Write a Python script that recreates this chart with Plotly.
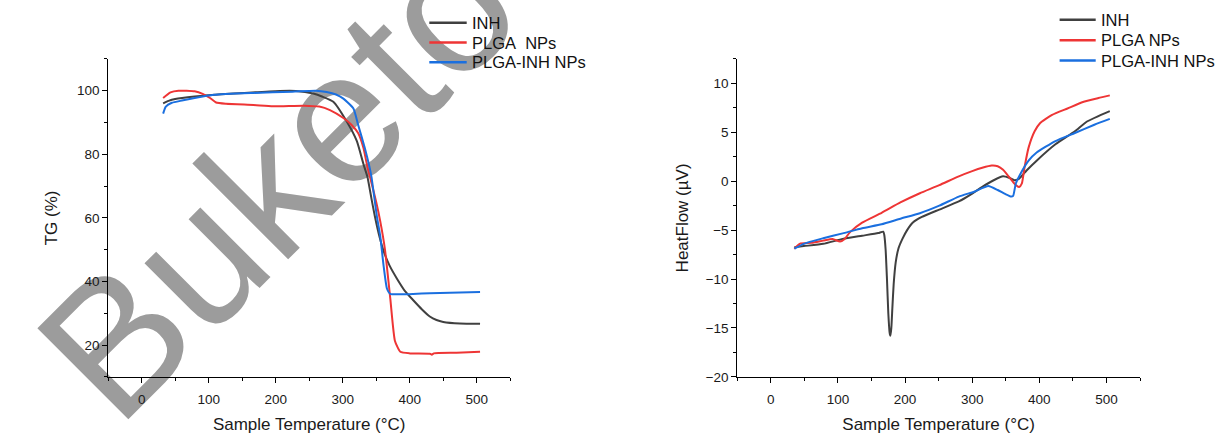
import plotly.graph_objects as go

W, H = 1217, 434

# ---------------- data ----------------
tg_labels = ["INH", "PLGA\u00a0 NPs", "PLGA-INH NPs"]
dsc_labels = ["INH", "PLGA NPs", "PLGA-INH NPs"]
colors = ["#404040", "#ee3535", "#1a6fdf"]

tg_inh_T = [32, 40, 50, 79, 100, 137, 170, 206, 230, 256, 270, 286, 306, 321, 331, 337, 343, 348,
            355, 362, 370, 381, 393, 405, 418, 430, 440, 450, 475, 505]
tg_inh = [96.0, 96.8, 97.4, 98.2, 98.6, 99.1, 99.5, 99.9, 99.9, 99.1, 98.1, 96.5, 90.3, 84.2, 76.9,
          72.8, 66.0, 60.5, 54.0, 49.0, 45.0, 40.9, 37.0, 34.2, 31.3, 29.0, 27.9, 27.3, 26.8, 26.7]

tg_plga_T = [32, 43, 55, 79, 91, 102, 111, 126, 167, 196, 242, 265, 281, 301, 313, 323, 331, 337,
             343, 350, 356, 363, 371, 378, 386, 400, 430, 433, 436, 470, 505]
tg_plga = [97.7, 99.5, 100.0, 99.8, 99.0, 97.7, 96.3, 95.9, 95.5, 95.1, 95.3, 95.0, 93.9, 91.4,
           89.3, 86.7, 82.0, 75.9, 71.0, 65.0, 59.0, 50.2, 34.7, 21.3, 17.9, 17.4, 17.3, 17.0,
           17.4, 17.6, 17.9]

tg_plgainh_T = [32, 36, 45, 60, 79, 108, 167, 225, 260, 276, 290, 301, 316, 323, 333, 340, 343,
                351, 356, 361, 366, 371, 390, 405, 430, 460, 505]
tg_plgainh = [92.8, 95.0, 96.2, 96.9, 97.7, 98.7, 99.3, 99.7, 100.0, 99.6, 98.8, 97.5, 94.4, 89.3,
              82.0, 76.0, 72.8, 60.5, 54.3, 45.0, 37.8, 36.1, 36.0, 36.1, 36.3, 36.5, 36.7]

dsc_inh_T = [35, 49, 78, 107, 136, 160, 167.5, 169, 171, 173, 175, 177, 178, 179.5, 181, 183, 186,
             190, 196, 203, 212, 225, 251, 280, 297, 315, 332, 346, 355, 363, 370, 381, 396, 424,
             453, 471, 505]
dsc_inh = [-6.75, -6.63, -6.4, -5.9, -5.57, -5.3, -5.15, -5.5, -7.0, -10.0, -13.5, -15.5, -15.8,
           -15.0, -13.0, -10.5, -8.3, -6.9, -5.9, -5.0, -4.2, -3.65, -2.9, -2.07, -1.4, -0.57, 0.1,
           0.5, 0.35, 0.1, 0.27, 1.1, 2.1, 3.77, 5.1, 6.1, 7.17]

dsc_plga_T = [35, 43, 61, 78, 92, 103, 110, 118, 136, 165, 193, 222, 251, 280, 300, 315, 329, 338,
              346, 355, 364, 370, 374, 378, 384, 393, 401, 419, 442, 465, 488, 505]
dsc_plga = [-6.9, -6.4, -6.3, -6.07, -5.9, -6.17, -5.9, -5.2, -4.23, -3.23, -2.17, -1.23, -0.4,
            0.5, 1.03, 1.37, 1.6, 1.53, 1.17, 0.43, -0.33, -0.6, -0.23, 1.43, 3.43, 5.1, 5.93,
            6.77, 7.43, 8.1, 8.5, 8.77]

dsc_plgainh_T = [35, 49, 78, 107, 136, 165, 193, 222, 251, 280, 303, 324, 338, 349, 358, 361, 365,
                 372, 384, 396, 424, 453, 482, 505]
dsc_plgainh = [-6.9, -6.4, -5.83, -5.33, -4.8, -4.4, -3.83, -3.27, -2.5, -1.57, -1.07, -0.5, -0.9,
               -1.3, -1.57, -1.5, -0.23, 0.77, 2.1, 2.93, 4.1, 4.93, 5.77, 6.37]

x_ticks = [0, 100, 200, 300, 400, 500]
tg_ticks = [20, 40, 60, 80, 100]
dsc_ticks = [-20, -15, -10, -5, 0, 5, 10]

# ---------------- figure ----------------
FONT = "Liberation Sans, Arial, sans-serif"
fig = go.Figure()

tg_series = [(tg_inh_T, tg_inh), (tg_plga_T, tg_plga), (tg_plgainh_T, tg_plgainh)]
dsc_series = [(dsc_inh_T, dsc_inh), (dsc_plga_T, dsc_plga), (dsc_plgainh_T, dsc_plgainh)]

for (xs, ys), name, c in zip(tg_series, tg_labels, colors):
    fig.add_trace(go.Scatter(x=xs, y=ys, name=name, mode="lines", showlegend=False,
                             line=dict(color=c, width=2, shape="spline", smoothing=0.5),
                             xaxis="x", yaxis="y"))
for (xs, ys), name, c in zip(dsc_series, dsc_labels, colors):
    fig.add_trace(go.Scatter(x=xs, y=ys, name=name, mode="lines", showlegend=False,
                             line=dict(color=c, width=2, shape="spline", smoothing=0.5),
                             xaxis="x2", yaxis="y2"))

axis_common = dict(showline=True, linecolor="black", linewidth=1, ticks="outside", ticklen=5,
                   tickwidth=1, tickcolor="black", showgrid=False, zeroline=False,
                   tickfont=dict(family=FONT, size=13.5, color="#1a1a1a"),
                   title_font=dict(family=FONT, size=17, color="#1a1a1a"))
minor_x = dict(dtick=50, tick0=0, ticks="outside", ticklen=3, tickwidth=1, tickcolor="black")

ydom = [50 / H, 374 / H]
fig.update_layout(
    width=W, height=H, autosize=False,
    margin=dict(l=0, r=0, t=0, b=0),
    paper_bgcolor="white", plot_bgcolor="white",
    font=dict(family=FONT, color="#1a1a1a"),
    showlegend=False,
    xaxis=dict(domain=[108.2 / W, 510.2 / W], range=[-50, 550], anchor="y",
               tickvals=x_ticks, minor=minor_x, ticklabelstandoff=5,
               title=dict(text="Sample Temperature (°C)", standoff=13), **axis_common),
    yaxis=dict(domain=ydom, range=[10, 110], anchor="x", tickvals=tg_ticks,
               minor=dict(dtick=10, tick0=0, ticks="outside", ticklen=3, tickwidth=1,
                          tickcolor="black"),
               title=dict(text="TG (%)", standoff=15), **axis_common),
    xaxis2=dict(domain=[737.3 / W, 1140 / W], range=[-50, 550], anchor="y2",
                tickvals=x_ticks, minor=minor_x, ticklabelstandoff=5,
                title=dict(text="Sample Temperature (°C)", standoff=13), **axis_common),
    yaxis2=dict(domain=ydom, range=[-20, 12.5], anchor="x2", tickvals=dsc_ticks,
                minor=dict(dtick=2.5, tick0=0, ticks="outside", ticklen=3, tickwidth=1,
                           tickcolor="black"),
                title=dict(text="HeatFlow (µV)", standoff=12), **axis_common),
)

# watermark text behind the data
cx, cy, d = 265, 169, 60
fig.add_shape(type="line", xref="paper", yref="paper", layer="below",
              x0=(cx - d) / W, y0=1 - (cy + d) / H, x1=(cx + d) / W, y1=1 - (cy - d) / H,
              line=dict(color="rgba(0,0,0,0)", width=0),
              label=dict(text="Buketo", textangle=-45, textposition="middle",
                         xanchor="center", yanchor="middle",
                         font=dict(family=FONT, size=187, color="#9c9c9c")))

# legends (line sample + label), one block per panel, built from the label lists
def add_legend(labels, line_x0, line_x1, text_x, row_y):
    for lab, c, y in zip(labels, colors, row_y):
        fig.add_shape(type="line", xref="paper", yref="paper", layer="above",
                      x0=line_x0 / W, x1=line_x1 / W, y0=1 - y / H, y1=1 - y / H,
                      line=dict(color=c, width=2.5))
        fig.add_annotation(xref="paper", yref="paper", x=text_x / W, y=1 - y / H,
                           xanchor="left", yanchor="middle", showarrow=False, text=lab,
                           font=dict(family=FONT, size=16.5, color="#111"))

add_legend(tg_labels, 429.3, 466.7, 469.5, [23.3, 43.3, 63.3])
add_legend(dsc_labels, 1059.6, 1095.7, 1099.0, [20.0, 41.0, 61.7])

fig.write_html(
    "out.html",
    config={"displayModeBar": False, "staticPlot": False},
    post_script="document.body.style.margin='0';document.body.style.overflow='hidden';"
                "document.documentElement.style.overflow='hidden';",
)
